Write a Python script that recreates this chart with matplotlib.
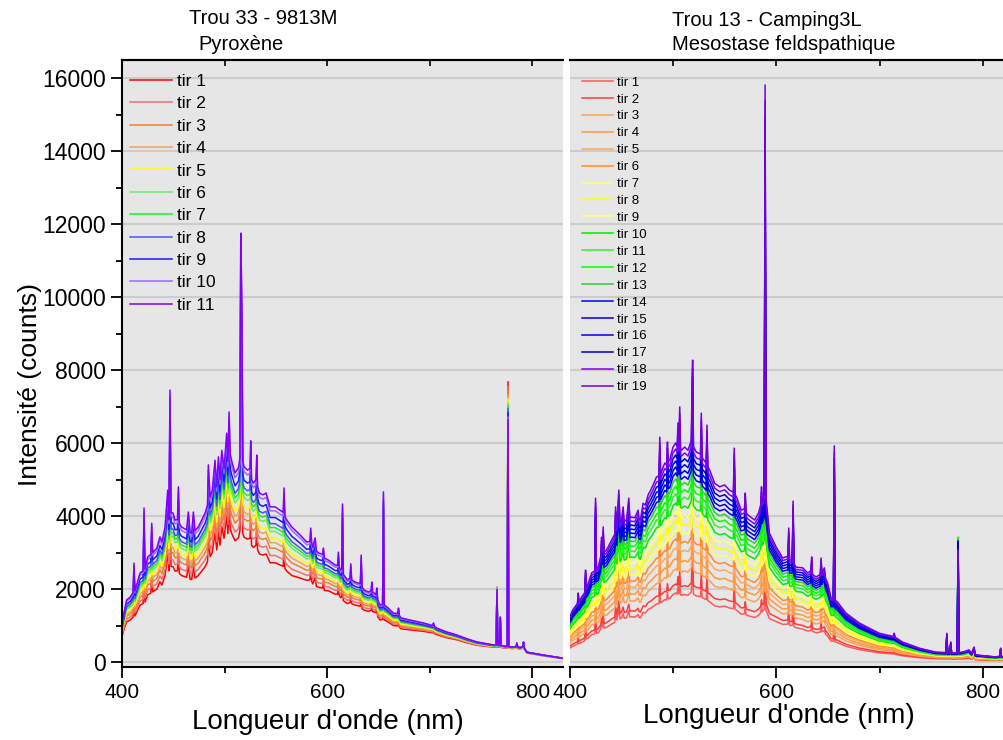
import matplotlib.pyplot as plt
import numpy as np
from matplotlib.ticker import MultipleLocator

plt.rcParams['font.family'] = ['Liberation Sans', 'DejaVu Sans']

# ---- left panel : Trou 33 - 9813M, Pyroxene (tir 11 = top curve, tir 1 = bottom curve)
wl_left = [400, 402, 404.5, 408, 410.8, 411.7, 412.6, 417.6, 420.6, 421.5, 422.4, 425, 428.1, 429, 429.9,
           434, 437, 439, 442, 444.6, 445.8, 446.8, 447.8, 449.8, 451.7, 454.1, 455, 455.9, 458, 463,
           464.7, 466.4, 468, 469.6, 471.2, 474.4, 477.7, 481, 483.4, 484.2, 485.9, 488, 490.7, 492.4, 494,
           495.5, 497.3, 499.5, 502.1, 503.3, 504.4, 505.5, 507, 510.2, 513.5, 515, 515.8, 516.8, 517.8, 519,
           522.3, 524.8, 525.5, 526.3, 528.1, 530.6, 531.4, 532.2, 534, 537.3, 540.5, 544.4, 549.3, 554, 557.2,
           558, 558.8, 560.7, 565.5, 573.7, 580, 583.2, 584, 585, 586, 588.3, 589.5, 591.5, 595.5, 596.4,
           597.3, 601.3, 607.8, 610.2, 611, 611.8, 613.4, 614.2, 615, 615.8, 619.8, 622.3, 623.1, 623.9, 627.3,
           630.6, 632.4, 633.2, 634, 636.1, 640.3, 642.8, 643.6, 644.4, 645.9, 647.7, 648.5, 649.3, 651.7, 654.1,
           654.9, 655.7, 658.2, 664.7, 668.8, 669.6, 670.4, 671.9, 681, 694, 702.9, 703.7, 704.5, 707, 716,
           726.5, 736, 746, 762, 764.8, 765.6, 766.4, 767.9, 768.8, 769.7, 772, 775.5, 776.3, 777.1, 780.2,
           784.2, 785, 785.8, 788, 790.7, 791.5, 792.3, 794.8, 811, 829]
top_left = [1010, 1350, 1700, 1780, 1900, 2710, 1950, 2440, 2500, 4220, 2550, 2880, 2950, 3800, 3000,
            3120, 3430, 3300, 3700, 4710, 3900, 7450, 4100, 4080, 3890, 3900, 4800, 3800, 3700, 3620,
            4110, 3550, 3530, 4110, 3600, 3700, 3890, 4080, 4300, 5400, 4520, 4700, 5530, 4800, 5620,
            5000, 5800, 5300, 6270, 5500, 6850, 5700, 5500, 5180, 5320, 5600, 11750, 9970, 5500, 5350,
            5260, 5300, 6060, 5000, 4900, 5000, 5670, 4800, 4630, 4580, 4630, 4250, 4250, 4160, 4100,
            4770, 4000, 3890, 3700, 3480, 3290, 3300, 3670, 3250, 3150, 3400, 3050, 2990, 2950, 3120,
            2850, 2790, 2660, 2650, 3010, 2600, 2520, 2550, 4330, 2400, 2250, 2300, 2690, 2250, 2190,
            2160, 2150, 2930, 2050, 1970, 1920, 1950, 2190, 1900, 1890, 1850, 2030, 1700, 1560, 1580,
            4660, 1560, 1510, 1340, 1330, 1480, 1280, 1210, 1150, 1070, 1000, 1070, 980, 930, 830,
            740, 640, 550, 470, 470, 1970, 470, 460, 1230, 450, 440, 430, 6640, 420, 410,
            420, 520, 410, 400, 420, 550, 380, 270, 190, 110]
low_left = [700, 900, 1100, 1150, 1230, 1750, 1260, 1560, 1600, 2700, 1640, 1840, 1890, 2430, 1920,
            2000, 2200, 2110, 2370, 3000, 2500, 4600, 2620, 2610, 2490, 2500, 3070, 2430, 2370, 2320,
            2630, 2270, 2260, 2630, 2300, 2370, 2490, 2610, 2750, 3460, 2890, 3000, 3540, 3070, 3600,
            3200, 3710, 3390, 4010, 3520, 4380, 3650, 3520, 3320, 3400, 3600, 7500, 6400, 3520, 3420,
            3370, 3390, 3880, 3200, 3140, 3200, 3630, 3070, 2960, 2930, 2960, 2720, 2720, 2660, 2620,
            3050, 2560, 2490, 2370, 2300, 2240, 2250, 2500, 2210, 2140, 2310, 2070, 2050, 2030, 2150,
            1960, 1950, 1860, 1860, 2110, 1820, 1760, 1790, 3030, 1680, 1600, 1630, 1910, 1600, 1560,
            1540, 1530, 2080, 1460, 1420, 1390, 1410, 1590, 1380, 1370, 1350, 1480, 1240, 1150, 1170,
            3450, 1150, 1120, 1000, 990, 1110, 960, 910, 880, 840, 800, 860, 780, 750, 670,
            610, 530, 460, 410, 410, 2050, 410, 410, 1200, 400, 390, 390, 7680, 380, 370,
            380, 480, 370, 360, 380, 510, 350, 250, 170, 100]
frac_left = [0, 0.13, 0.26, 0.36, 0.44, 0.56, 0.63, 0.70, 0.81, 0.93, 1.0]
colors_left = ['#ff0000', '#f07070', '#f08030', '#f0a060', '#ffff00', '#66ee66',
               '#22ee22', '#5050ff', '#1a1aff', '#a366ff', '#8000ff']
labels_left = ['tir %d' % i for i in range(1, 12)]

# ---- right panel : Trou 13 - Camping3L, Mesostase feldspathique (tir 19 = top, tir 1 = bottom)
wl_right = [400, 402.6, 404.8, 407.2, 408, 408.8, 411.3, 414.3, 415.1, 415.9, 417.7, 421, 424, 424.8, 425.6,
            427.4, 429.8, 430.6, 431.4, 432.2, 433, 435.5, 440.3, 443.4, 444.2, 445.5, 447.3, 448.5, 450, 451.5,
            452.5, 454.8, 457, 458, 459.6, 462.8, 466, 467, 468.3, 470.8, 473, 475.7, 478, 480.5, 483.8,
            486.2, 487, 487.8, 489.2, 491.8, 493.6, 494.4, 495.2, 496.6, 499.8, 502.4, 503.8, 504.6, 505.5, 506.3,
            507.1, 507.9, 511.1, 514.3, 517.6, 518.2, 518.8, 519.6, 522.4, 526.4, 527.2, 528, 529.8, 531.9, 532.7,
            533.5, 535.3, 540.1, 545, 549.8, 554.6, 558.3, 559.1, 559.9, 561.7, 565.9, 569, 569.8, 570.6, 572.3,
            578.8, 582.6, 584.7, 585.5, 586.3, 588.2, 589, 589.8, 593.2, 599.7, 606.1, 611.1, 611.9, 612.7, 614.2,
            615.3, 616.1, 616.9, 619, 625.4, 630.2, 633.3, 634.1, 634.9, 638.4, 642.4, 643.2, 644, 646.4, 647.5,
            649.6, 652.9, 655.2, 656, 656.8, 659.2, 667.3, 680.2, 699.5, 713.2, 714, 714.8, 722, 738.2, 754.3,
            764.2, 765, 765.8, 768, 768.8, 769.6, 775.1, 775.9, 776.7, 780, 786.5, 789, 791.3, 792.5, 794.5,
            812.3, 816.3, 817.1, 817.9, 830]
top_right = [1250, 1420, 1510, 1600, 1890, 1650, 1780, 1900, 2520, 2050, 2160, 2440, 2500, 4490, 2550,
             2600, 2900, 3420, 3100, 3700, 3000, 3070, 3340, 3500, 4250, 3700, 4710, 3800, 3890, 4250,
             3850, 3890, 4490, 3950, 3970, 3950, 4160, 3900, 3890, 4350, 4300, 4580, 4700, 4850, 5070,
             5100, 6160, 5150, 5260, 5450, 5400, 6030, 5500, 5530, 5890, 6000, 5900, 6550, 5950, 6990,
             5850, 5800, 5890, 5800, 6080, 7590, 8270, 5900, 5750, 5700, 6820, 5600, 5530, 5450, 6490,
             5350, 5260, 4900, 4800, 4850, 4710, 4650, 5860, 4600, 4490, 4160, 4200, 4630, 4100, 4030,
             3890, 4080, 4300, 4800, 4400, 4600, 15810, 4500, 3530, 3150, 2850, 2900, 3670, 2800, 2790,
             2800, 4410, 2700, 2600, 2580, 2440, 2500, 2880, 2400, 2330, 2400, 2850, 2450, 2580, 2300,
             2160, 1750, 1750, 5920, 1700, 1640, 1340, 1070, 790, 700, 790, 680, 550, 380, 270,
             260, 790, 250, 260, 550, 250, 250, 3070, 260, 270, 330, 230, 410, 200, 190,
             140, 160, 380, 150, 120]
low_right = [380, 430, 460, 490, 580, 500, 540, 580, 780, 630, 660, 750, 770, 1400, 790,
             800, 900, 1060, 960, 1150, 930, 950, 1040, 1090, 1330, 1150, 1480, 1180, 1210, 1330,
             1200, 1210, 1400, 1230, 1240, 1230, 1300, 1220, 1210, 1360, 1340, 1440, 1470, 1520, 1590,
             1600, 1950, 1620, 1650, 1710, 1700, 1900, 1730, 1740, 1850, 1890, 1860, 2070, 1870, 2200,
             1840, 1830, 1850, 1830, 1920, 2400, 2620, 1860, 1810, 1790, 2150, 1760, 1740, 1710, 2050,
             1680, 1650, 1540, 1510, 1530, 1480, 1460, 1850, 1450, 1410, 1310, 1320, 1460, 1290, 1270,
             1220, 1280, 1350, 1510, 1380, 1450, 4900, 1420, 1190, 1110, 1030, 1040, 1320, 1010, 1000,
             1010, 1590, 970, 940, 900, 850, 870, 1000, 840, 800, 820, 950, 830, 860, 770,
             700, 570, 570, 1800, 550, 530, 430, 340, 250, 220, 260, 210, 170, 120, 90,
             85, 260, 80, 85, 180, 80, 80, 1300, 85, 85, 100, 75, 130, 65, 60,
             45, 50, 120, 45, 40]
frac_right = [0, 0.06, 0.16, 0.23, 0.30, 0.36, 0.42, 0.48, 0.54, 0.60,
              0.66, 0.71, 0.76, 0.80, 0.84, 0.88, 0.92, 0.96, 1.0]
# O I 777 nm line height for each shot (green shots are the tallest here)
o777_right = [1300, 1450, 1700, 1900, 2100, 2300, 2600, 2800, 3000, 3420,
              3400, 3380, 3350, 3320, 3300, 3280, 3250, 3070, 3050]
colors_right = ['#ff5a5a', '#ff3c3c', '#ffa050', '#ff9a3c', '#ffa860', '#ff8c28',
                '#ffff66', '#ffff00', '#ffff80', '#00ee00', '#33ee33', '#00ff00',
                '#33cc33', '#0000ff', '#0000dd', '#0000ff', '#0000bb', '#8000ff', '#7000e0']
labels_right = ['tir %d' % i for i in range(1, 20)]

fig = plt.figure(figsize=(10.04, 7.4), dpi=100)
axL = fig.add_axes([0.1215, 0.0986, 0.4393, 0.8203])
axR = fig.add_axes([0.5677, 0.0986, 0.4422, 0.8203])

for ax in (axL, axR):
    ax.set_facecolor('#e6e6e6')
    ax.set_xlim(400, 830)
    ax.set_ylim(-137, 16493)
    ax.set_axisbelow(True)
    ax.yaxis.set_major_locator(MultipleLocator(2000))
    ax.yaxis.set_minor_locator(MultipleLocator(1000))
    ax.xaxis.set_major_locator(MultipleLocator(200))
    ax.xaxis.set_minor_locator(MultipleLocator(100))
    ax.yaxis.grid(True, color='#cccccc', lw=1.5)
    ax.tick_params(axis='x', which='major', direction='out', length=8, width=1.3, labelsize=15)
    ax.tick_params(axis='x', which='minor', direction='out', length=4, width=1.3)
    ax.spines['right'].set_visible(False)
    for s in ('top', 'bottom', 'left'):
        ax.spines[s].set_linewidth(1.5)
    sec = ax.secondary_xaxis('top')
    sec.set_xticks([500, 600, 700, 800])
    sec.tick_params(direction='in', length=4, width=1.2, labeltop=False)
    sec.spines['top'].set_linewidth(1.5)

axL.tick_params(axis='y', which='major', direction='out', length=8, width=1.3, labelsize=16.5)
axL.tick_params(axis='y', which='minor', direction='out', length=4, width=1.3)
axR.spines['left'].set_visible(False)
axR.tick_params(axis='y', which='both', left=False, labelleft=False)

wlL = np.array(wl_left)
topL = np.array(top_left)
lowL = np.array(low_left)
for f, c, lab in zip(frac_left, colors_left, labels_left):
    axL.plot(wlL, lowL + f * (topL - lowL), color=c, lw=1.1, label=lab)

wlR = np.array(wl_right)
topR = np.array(top_right)
lowR = np.array(low_right)
o_idx = wl_right.index(775.9)
for f, c, lab, o in zip(frac_right, colors_right, labels_right, o777_right):
    y = lowR + f * (topR - lowR)
    y[o_idx] = o
    axR.plot(wlR, y, color=c, lw=1.1, label=lab)

axL.legend(loc='upper left', bbox_to_anchor=(0.018, 0.977), frameon=False, fontsize=12.5,
           handlelength=2.4, handletextpad=0.3, labelspacing=0.415, borderpad=0, borderaxespad=0)
axR.legend(loc='upper left', bbox_to_anchor=(0.027, 0.973), frameon=False, fontsize=9.5,
           handlelength=2.35, handletextpad=0.3, labelspacing=0.355, borderpad=0, borderaxespad=0)

W, H = 1004, 740
fig.text(189 / W, 1 - 18 / H, 'Trou 33 - 9813M', ha='left', va='center', fontsize=14.5)
fig.text(198 / W, 1 - 44 / H, 'Pyroxène', ha='left', va='center', fontsize=14.5)
fig.text(672 / W, 1 - 20 / H, 'Trou 13 - Camping3L', ha='left', va='center', fontsize=14.5)
fig.text(672 / W, 1 - 44 / H, 'Mesostase feldspathique', ha='left', va='center', fontsize=14.5)
fig.text(328 / W, 1 - 722 / H, "Longueur d'onde (nm)", ha='center', va='center', fontsize=20)
fig.text(779 / W, 1 - 716 / H, "Longueur d'onde (nm)", ha='center', va='center', fontsize=20)
fig.text(30 / W, 1 - 385 / H, 'Intensité (counts)', ha='center', va='center', rotation=90, fontsize=19)

fig.savefig('out.png', dpi=100)
